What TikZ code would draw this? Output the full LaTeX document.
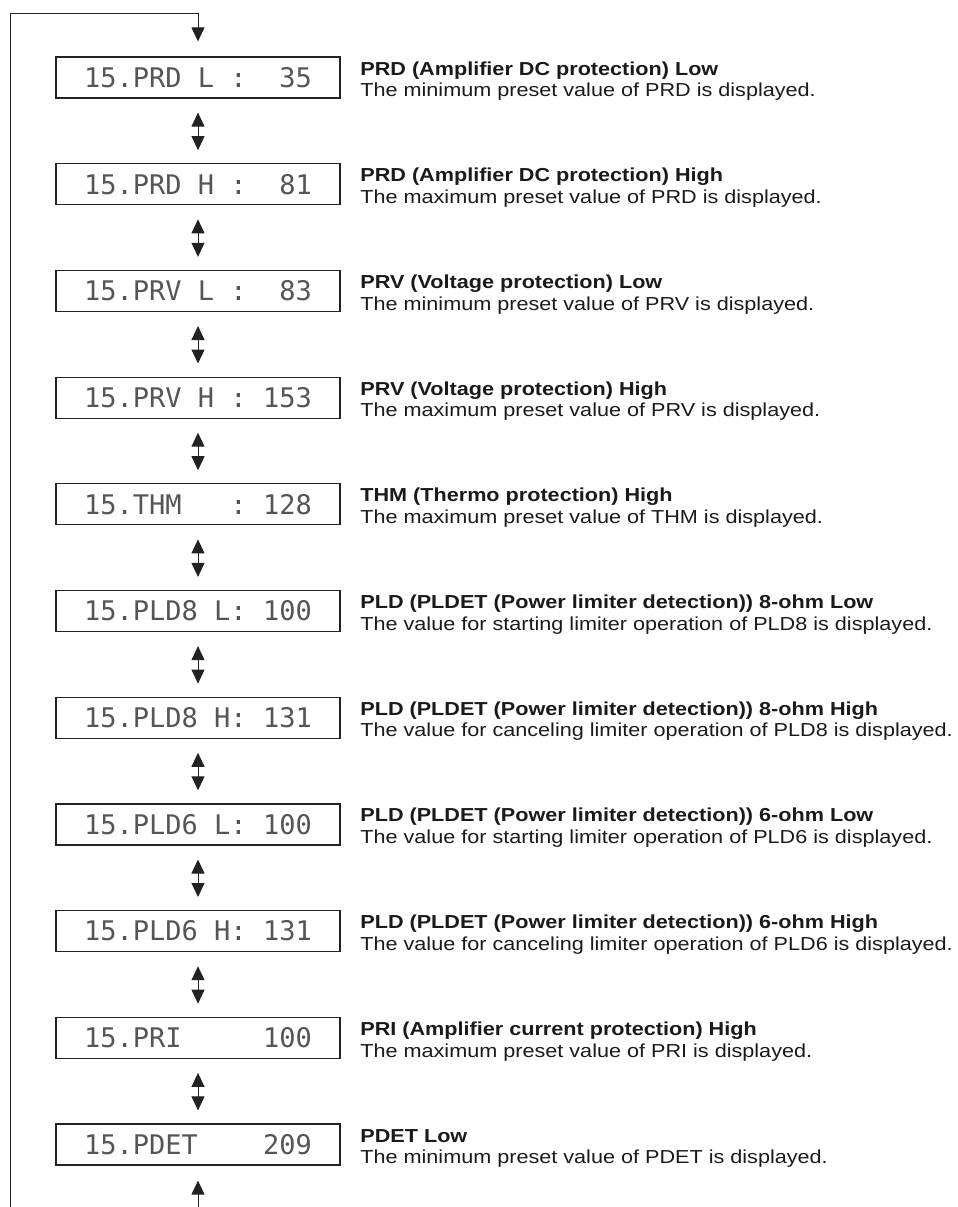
\documentclass[tikz,border=0pt]{standalone}
\usepackage{fontspec}
\setmainfont{Liberation Sans}[FakeStretch=1.15]
\newfontfamily\lcdfont{DejaVu Sans Mono}
\usetikzlibrary{arrows.meta,positioning}
\definecolor{clinea}{HTML}{222222}
\definecolor{clcd}{HTML}{555555}
\definecolor{ctexto}{HTML}{1A1A1A}
\tikzset{
  pantalla/.style={draw=clinea,line width=0.6pt,minimum width=142pt,minimum height=20.5pt,
                   inner sep=0pt,font=\lcdfont\fontsize{13.5}{14}\selectfont\frenchspacing,
                   text=clcd,text height=9.85pt,text depth=0pt},
  flecha/.style={-{Triangle[length=7pt,width=6.5pt]},draw=clinea,line width=0.5pt,shorten >=7.5pt},
  flechad/.style={{Triangle[length=7pt,width=6.5pt]}-{Triangle[length=7pt,width=6.5pt]},
                  draw=clinea,line width=0.5pt,shorten <=7pt,shorten >=6.5pt},
  tit/.style={anchor=base west,inner sep=0pt,text=ctexto,font=\fontsize{9.4}{11}\selectfont\bfseries},
  desc/.style={anchor=base west,inner sep=0pt,text=ctexto,font=\fontsize{9.4}{11}\selectfont},
}

\begin{document}
\begin{tikzpicture}[x=0.5pt,y=-0.5pt]
\useasboundingbox (0,0) rectangle (958,1207);

% pantallas y textos
\foreach \pan/\ti/\de [count=\i from 0] in {
  15.PRD~L~:~~35/PRD (Amplifier DC protection) Low/The minimum preset value of PRD is displayed.,
  15.PRD~H~:~~81/PRD (Amplifier DC protection) High/The maximum preset value of PRD is displayed.,
  15.PRV~L~:~~83/PRV (Voltage protection) Low/The minimum preset value of PRV is displayed.,
  15.PRV~H~:~153/PRV (Voltage protection) High/The maximum preset value of PRV is displayed.,
  15.THM~~~:~128/THM (Thermo protection) High/The maximum preset value of THM is displayed.,
  15.PLD8~L:~100/PLD (PLDET (Power limiter detection)) 8-ohm Low/The value for starting limiter operation of PLD8 is displayed.,
  15.PLD8~H:~131/PLD (PLDET (Power limiter detection)) 8-ohm High/The value for canceling limiter operation of PLD8 is displayed.,
  15.PLD6~L:~100/PLD (PLDET (Power limiter detection)) 6-ohm Low/The value for starting limiter operation of PLD6 is displayed.,
  15.PLD6~H:~131/PLD (PLDET (Power limiter detection)) 6-ohm High/The value for canceling limiter operation of PLD6 is displayed.,
  15.PRI~~~~~100/PRI (Amplifier current protection) High/The maximum preset value of PRI is displayed.,
  15.PDET~~~~209/PDET Low/The minimum preset value of PDET is displayed.}{
  \pgfmathsetmacro\y{77.5+\i*106.7}
  \node[pantalla] (pan\i) at (198,\y) {\pan};
  \node[tit] (tit\i) at (360,\y-2.5) {\ti};
  \node[desc] (desc\i) at (360,\y+19.2) {\de};
}

% flechas dobles entre pantallas
\foreach \i in {1,...,10}{
  \pgfmathtruncatemacro\j{\i-1}
  \draw[flechad] (pan\j) -- (pan\i);
}

% lazo de retorno
\coordinate (ini) at (10,1207);
\coordinate (esq) at (10,13);
\coordinate (fin) at (198,1207);
\draw[flecha] (ini) -- (esq) -| (pan0);
\draw[flecha] (fin) -- (pan10);

\end{tikzpicture}
\end{document}
